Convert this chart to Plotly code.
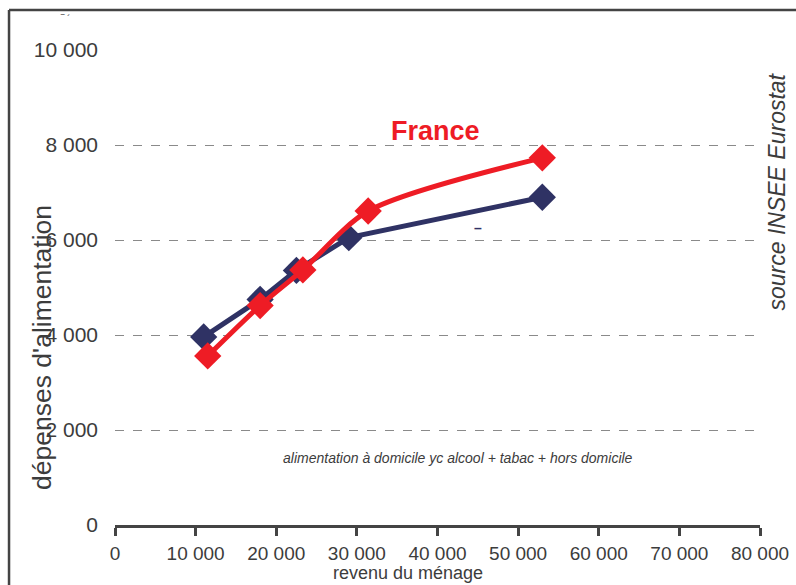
import plotly.graph_objects as go

# Household income (x) vs food spending (y)
income_navy = [11000, 18000, 22500, 29000, 53000]
spend_navy = [3960, 4750, 5360, 6050, 6900]

income_france = [11500, 18000, 23300, 31400, 53000]
spend_france = [3560, 4620, 5370, 6610, 7730]

x_ticks = [0, 10000, 20000, 30000, 40000, 50000, 60000, 70000, 80000]
x_labels = ["0", "10 000", "20 000", "30 000", "40 000", "50 000", "60 000", "70 000", "80 000"]
y_ticks = [0, 2000, 4000, 6000, 8000, 10000]
y_labels = ["0", "2 000", "4 000", "6 000", "8 000", "10 000"]

NAVY = "#2f3264"
RED = "#ee1c25"
GREY_TXT = "#3c3c3c"
FONT = "Liberation Sans, Arial, sans-serif"

fig = go.Figure()

fig.add_trace(go.Scatter(
    x=income_navy, y=spend_navy, mode="lines+markers",
    line=dict(color=NAVY, width=5),
    marker=dict(symbol="diamond", size=21, color=NAVY),
    showlegend=False, cliponaxis=False,
))
fig.add_trace(go.Scatter(
    x=income_france, y=spend_france, mode="lines+markers",
    line=dict(color=RED, width=5, shape="spline", smoothing=0.8),
    marker=dict(symbol="diamond", size=21, color=RED),
    showlegend=False, cliponaxis=False,
))

annotations = [
    dict(x=39700, y=8300, xref="x", yref="y", text="<b>France</b>", showarrow=False,
         font=dict(family=FONT, size=27, color=RED)),
    dict(x=45000, y=6250, xref="x", yref="y", text="<b>–</b>", showarrow=False,
         font=dict(family=FONT, size=14, color=NAVY)),
    dict(x=42550, y=1410, xref="x", yref="y",
         text="<i>alimentation à domicile yc alcool + tabac + hors domicile</i>",
         showarrow=False, font=dict(family=FONT, size=14, color=GREY_TXT)),
    dict(x=-0.113, y=0.373, xref="paper", yref="paper", xanchor="center", yanchor="middle",
         text="dépenses d'alimentation", textangle=-90, showarrow=False,
         font=dict(family=FONT, size=26.5, color=GREY_TXT)),
    dict(x=1.027, y=0.703, xref="paper", yref="paper", xanchor="center", yanchor="middle",
         text="<i>source INSEE Eurostat</i>", textangle=-90, showarrow=False,
         font=dict(family=FONT, size=23, color=GREY_TXT)),
    dict(x=0.454, y=-0.1263, xref="paper", yref="paper", xanchor="center", yanchor="bottom",
         text="revenu du ménage", showarrow=False,
         font=dict(family=FONT, size=18, color=GREY_TXT)),
    dict(x=-0.078, y=1.065, xref="paper", yref="paper", xanchor="center", yanchor="middle",
         text="‾ ´", showarrow=False, font=dict(family=FONT, size=10, color=GREY_TXT)),
]

# frame lines along the left and top edges
shapes = [
    dict(type="line", xref="paper", yref="paper", x0=-0.1643, x1=-0.1643, y0=-0.2, y1=1.0842,
         line=dict(color="#444444", width=2.5)),
    dict(type="line", xref="paper", yref="paper", x0=-0.1643, x1=1.1, y0=1.0842, y1=1.0842,
         line=dict(color="#444444", width=2.5)),
]

fig.update_layout(
    width=796, height=585,
    margin=dict(l=115, r=36, t=50, b=60, autoexpand=False),
    paper_bgcolor="white", plot_bgcolor="white",
    font=dict(family=FONT, color=GREY_TXT),
    annotations=annotations, shapes=shapes,
    xaxis=dict(
        range=[0, 80000], tickvals=x_ticks, ticktext=x_labels,
        tickfont=dict(family=FONT, size=19, color=GREY_TXT),
        showgrid=False, zeroline=False, automargin=False,
        showline=True, linecolor="#444444", linewidth=2.5,
        ticks="outside", ticklen=8, tickwidth=2.5, tickcolor="#444444",
        ticklabelstandoff=1,
    ),
    yaxis=dict(
        range=[0, 10000], tickvals=y_ticks, ticktext=y_labels,
        tickfont=dict(size=21, color=GREY_TXT), automargin=False,
        showgrid=True, gridcolor="#8a8a8a", gridwidth=1.2, griddash="dash",
        zeroline=False, showline=False, ticks="", ticklabelstandoff=16,
    ),
)

fig.write_html("out.html")
